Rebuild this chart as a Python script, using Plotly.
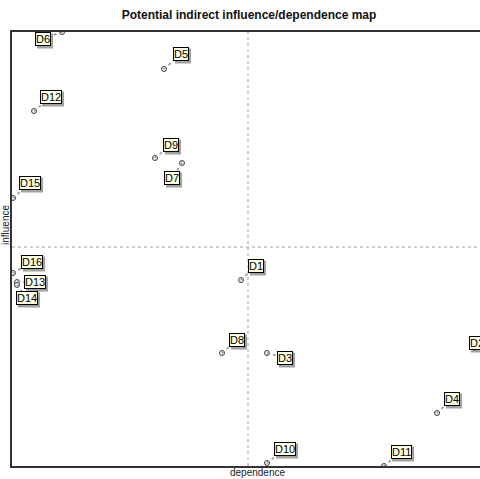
import plotly.graph_objects as go

# ---- data (dependence, influence) ----
labels = ["D1", "D2", "D3", "D4", "D5", "D6", "D7", "D8",
          "D9", "D10", "D11", "D12", "D13", "D14", "D15", "D16"]
dependence = [229, 480, 255, 425, 152, 50, 170, 210,
              143, 255, 372, 22, 5, 5, 1, 1]
influence = [186, 108, 113, 53, 397, 434, 303, 113,
             308, 3, 0, 355, 184, 181, 268, 193]
avg_dependence = 236
avg_influence = 219

# ---- layout / style (label offsets in screen px: dx right, dy down) ----
label_offsets = {
    "D1": (15, -14), "D2": (-15, -15), "D3": (18, 5), "D4": (15, -14),
    "D5": (17, -15), "D6": (-19, 7), "D7": (-10, 15), "D8": (15, -13),
    "D9": (16, -13), "D10": (18, -14), "D11": (17, -14), "D12": (17, -14),
    "D13": (18, 0), "D14": (10, 13), "D15": (17, -15), "D16": (19, -11),
}

W, H = 484, 479
ML, MR, MT, MB = 12, 0, 32, 13
PW, PH = W - ML - MR, H - MT - MB
X0, X1 = 0, 472
Y0, Y1 = 0, 434
sx = (X1 - X0) / PW
sy = (Y1 - Y0) / PH
FONT = "Liberation Sans, Arial, sans-serif"

fig = go.Figure()

shapes = []
# average lines
shapes.append(dict(type="line", xref="x", yref="paper", x0=avg_dependence, x1=avg_dependence,
                   y0=0, y1=1, line=dict(color="#a0a0a0", width=1, dash="dot"), layer="below"))
shapes.append(dict(type="line", xref="paper", yref="y", x0=0, x1=1,
                   y0=avg_influence, y1=avg_influence,
                   line=dict(color="#a0a0a0", width=1, dash="dot"), layer="below"))

annotations = []
for lab, x, y in zip(labels, dependence, influence):
    dx, dy = label_offsets[lab]
    # leader line
    shapes.append(dict(type="line", xref="x", yref="y", x0=x, y0=y,
                       x1=x + dx * sx, y1=y - dy * sy,
                       line=dict(color="#999999", width=1.6, dash="dot")))
    # drop shadow behind label box
    bw = 7.9 + 6.1 * (len(lab) - 1) + 2
    bh = 15
    cx = x + (dx + 2) * sx
    cy = y - (dy + 2) * sy
    shapes.append(dict(type="rect", xref="x", yref="y",
                       x0=cx - bw / 2 * sx, x1=cx + bw / 2 * sx,
                       y0=cy - bh / 2 * sy, y1=cy + bh / 2 * sy,
                       fillcolor="#8a8a8a", line=dict(width=0), opacity=0.8))
    xp = (x - X0) / (X1 - X0)
    yp = (y - Y0) / (Y1 - Y0)
    annotations.append(dict(xref="paper", yref="paper", x=xp, y=yp, text=lab,
                            showarrow=False, xshift=dx, yshift=-dy,
                            xanchor="center", yanchor="middle",
                            font=dict(family=FONT, size=11, color="#000000"),
                            bgcolor="#ffffe6", bordercolor="#000000", borderwidth=1, borderpad=0))

fig.add_trace(go.Scatter(
    x=dependence, y=influence, mode="markers", text=labels,
    marker=dict(symbol="circle", size=5, color="#e8e8e8",
                line=dict(color="#444444", width=1)),
    hoverinfo="text", showlegend=False, cliponaxis=True,
))

# axis titles
annotations.append(dict(xref="paper", yref="paper", x=(257 - ML) / PW, y=-(472 - (H - MB)) / PH,
                        text="dependence", showarrow=False, xanchor="center", yanchor="middle",
                        font=dict(family=FONT, size=10, color="#222222")))
annotations.append(dict(xref="paper", yref="paper", x=-(ML - 5) / PW, y=((H - MB) - 225) / PH,
                        text="influence", showarrow=False, textangle=-90,
                        xanchor="center", yanchor="middle",
                        font=dict(family=FONT, size=10, color="#222222")))

fig.update_layout(
    width=W, height=H,
    margin=dict(l=ML, r=MR, t=MT, b=MB, pad=0),
    paper_bgcolor="white", plot_bgcolor="white",
    title=dict(text="<b>Potential indirect influence/dependence map</b>",
               x=249 / W, xanchor="center", y=1 - 15 / H, yanchor="middle",
               font=dict(family=FONT, size=12, color="#111111")),
    xaxis=dict(range=[X0, X1], showgrid=False, zeroline=False, showticklabels=False,
               ticks="", showline=True, linecolor="#333333", linewidth=1.5, mirror=True,
               fixedrange=True),
    yaxis=dict(range=[Y0, Y1], showgrid=False, zeroline=False, showticklabels=False,
               ticks="", showline=True, linecolor="#333333", linewidth=1.5, mirror=False,
               fixedrange=True),
    shapes=shapes,
    annotations=annotations,
)

fig.write_html("out.html", config={"displayModeBar": False},
               post_script="document.body.style.margin='0';document.body.style.overflow='hidden';")
